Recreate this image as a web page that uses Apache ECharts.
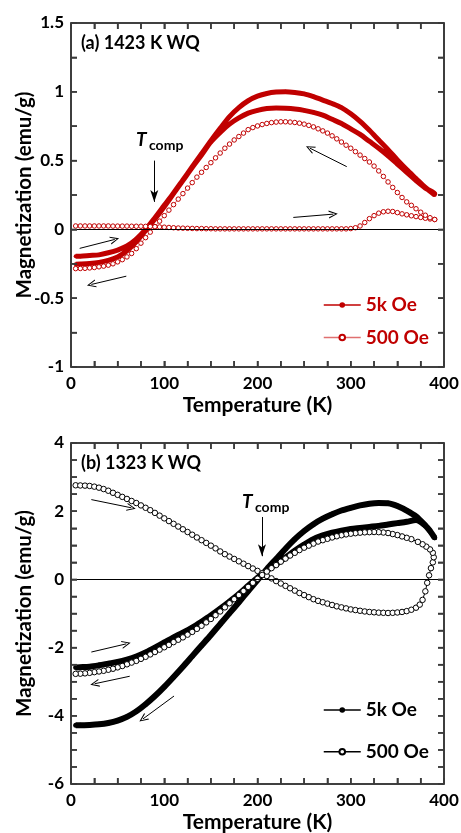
<!DOCTYPE html>
<html><head><meta charset="utf-8">
<script src="https://cdn.jsdelivr.net/npm/echarts@6/dist/echarts.min.js"></script>
<style>html,body{margin:0;padding:0;background:#fff}#c{width:461px;height:833px}</style>
</head><body><div id="c"></div>
<script>
// ---------- DATA (Temperature K, Magnetization emu/g) ----------
// Panel (a) 1423 K WQ
const a5kWarm = [[5,-0.196],[10,-0.195],[20,-0.19],[30,-0.185],[40,-0.17],[50,-0.15],[60,-0.12],[70,-0.07],[80,0.0],[90,0.085],[100,0.175],[110,0.265],[120,0.36],[130,0.455],[140,0.55],[150,0.645],[160,0.735],[170,0.82],[180,0.885],[190,0.935],[200,0.968],[210,0.988],[220,0.998],[230,1.0],[240,0.995],[250,0.985],[260,0.965],[270,0.94],[280,0.915],[290,0.885],[300,0.84],[310,0.785],[320,0.72],[330,0.65],[340,0.58],[350,0.505],[360,0.435],[370,0.37],[380,0.305],[390,0.25]];
const a5kCool = [[390,0.26],[380,0.3],[370,0.355],[360,0.415],[350,0.475],[340,0.535],[330,0.59],[320,0.64],[310,0.69],[300,0.73],[290,0.77],[280,0.8],[270,0.83],[260,0.85],[250,0.865],[240,0.875],[230,0.88],[220,0.882],[210,0.878],[200,0.865],[190,0.845],[180,0.81],[170,0.765],[160,0.705],[150,0.635],[140,0.54],[130,0.45],[120,0.355],[110,0.26],[100,0.165],[90,0.075],[80,-0.01],[70,-0.09],[60,-0.155],[50,-0.2],[40,-0.225],[30,-0.24],[20,-0.248],[10,-0.252],[5,-0.253]];
const a500Warm = [[5,.025],[10,.025],[15,.025],[20,.025],[25,.025],[30,.025],[35,.025],[40,.025],[45,.024],[50,.024],[55,.024],[60,.024],[65,.023],[70,.023],[75,.023],[80,.022],[85,.021],[90,.02],[95,.018],[100,.016],[105,.014],[110,.012],[115,.01],[120,.009],[125,.008],[130,.007],[135,.006],[140,.006],[145,.005],[150,.005],[155,.004],[160,.004],[165,.004],[170,.004],[175,.004],[180,.004],[185,.004],[190,.004],[195,.004],[200,.004],[205,.004],[210,.004],[215,.004],[220,.004],[225,.004],[230,.004],[235,.004],[240,.004],[245,.004],[250,.004],[255,.004],[260,.004],[265,.004],[270,.004],[275,.004],[280,.004],[285,.004],[290,.004],[295,.004],[300,.006],[305,.012],[310,.025],[315,.05],[320,.078],[325,.1],[330,.118],[335,.128],[340,.132],[345,.13],[350,.122],[355,.113],[360,.106],[365,.099],[370,.093],[375,.087],[380,.081],[385,.076],[390,.072]];
const a500Cool = [[390,.072],[385,.085],[380,.103],[375,.125],[370,.15],[365,.175],[360,.2],[355,.232],[350,.268],[345,.305],[340,.345],[335,.385],[330,.425],[325,.46],[320,.49],[315,.515],[310,.54],[305,.565],[300,.59],[295,.612],[290,.635],[285,.658],[280,.68],[275,.7],[270,.716],[265,.731],[260,.745],[255,.756],[250,.765],[245,.772],[240,.777],[235,.78],[230,.782],[225,.782],[220,.78],[215,.776],[210,.77],[205,.762],[200,.752],[195,.74],[190,.725],[185,.7],[180,.675],[175,.65],[170,.62],[165,.59],[160,.555],[155,.52],[150,.485],[145,.45],[140,.415],[135,.38],[130,.34],[125,.3],[120,.26],[115,.22],[110,.18],[105,.14],[100,.1],[95,.06],[90,.02],[85,-.02],[80,-.06],[75,-.1],[70,-.14],[65,-.175],[60,-.2],[55,-.22],[50,-.236],[45,-.25],[40,-.26],[35,-.267],[30,-.272],[25,-.277],[20,-.28],[15,-.283],[10,-.284],[5,-.285]];
// Panel (b) 1323 K WQ
const b5kWarm = [[5,-2.58],[10,-2.575],[20,-2.56],[30,-2.52],[40,-2.47],[50,-2.42],[60,-2.35],[70,-2.26],[80,-2.14],[90,-2.0],[100,-1.85],[110,-1.7],[120,-1.56],[130,-1.41],[140,-1.24],[150,-1.06],[160,-0.86],[170,-0.65],[180,-0.43],[190,-0.19],[200,0.05],[210,0.26],[220,0.45],[230,0.64],[240,0.84],[250,1.02],[260,1.18],[270,1.29],[280,1.37],[290,1.43],[300,1.48],[310,1.51],[320,1.54],[330,1.57],[340,1.61],[350,1.65],[360,1.69],[370,1.74],[380,1.58],[385,1.42],[390,1.22]];
const b5kCool = [[390,1.22],[385,1.42],[380,1.58],[370,1.85],[360,2.02],[350,2.15],[345,2.2],[340,2.23],[330,2.24],[320,2.22],[310,2.17],[300,2.1],[290,2.02],[280,1.91],[270,1.78],[260,1.62],[250,1.42],[240,1.18],[230,0.9],[220,0.6],[210,0.3],[200,-0.02],[190,-0.34],[180,-0.67],[170,-0.99],[160,-1.31],[150,-1.63],[140,-1.94],[130,-2.25],[120,-2.56],[110,-2.86],[100,-3.15],[90,-3.42],[80,-3.66],[70,-3.87],[60,-4.03],[50,-4.14],[40,-4.21],[30,-4.25],[20,-4.27],[10,-4.28],[5,-4.28]];
const b500Warm = [[5,2.76],[10,2.755],[15,2.75],[20,2.74],[25,2.72],[30,2.69],[35,2.65],[40,2.6],[45,2.54],[50,2.48],[55,2.42],[60,2.36],[65,2.3],[70,2.24],[75,2.17],[80,2.1],[85,2.03],[90,1.95],[95,1.87],[100,1.79],[105,1.71],[110,1.63],[115,1.55],[120,1.47],[125,1.39],[130,1.31],[135,1.23],[140,1.15],[145,1.07],[150,0.99],[155,0.91],[160,0.82],[165,0.74],[170,0.67],[175,0.6],[180,0.53],[185,0.46],[190,0.39],[195,0.32],[200,0.25],[205,0.18],[210,0.1],[215,0.03],[220,-0.05],[225,-0.12],[230,-0.19],[235,-0.26],[240,-0.33],[245,-0.4],[250,-0.46],[255,-0.52],[260,-0.58],[265,-0.63],[270,-0.67],[275,-0.71],[280,-0.75],[285,-0.79],[290,-0.82],[295,-0.85],[300,-0.88],[305,-0.9],[310,-0.92],[315,-0.94],[320,-0.955],[325,-0.965],[330,-0.975],[335,-0.98],[340,-0.985],[345,-0.98],[350,-0.97],[355,-0.955],[360,-0.93],[365,-0.89],[370,-0.83],[374,-0.74],[377,-0.6],[380,-0.35],[382,-0.1],[384,0.12],[386,0.33],[388,0.5]];
const b500Cool = [[389,0.65],[388,0.78],[385,0.88],[381,0.96],[377,1.03],[372,1.1],[365,1.18],[360,1.22],[355,1.26],[350,1.3],[345,1.33],[340,1.36],[335,1.375],[330,1.385],[325,1.39],[320,1.385],[315,1.38],[310,1.37],[305,1.355],[300,1.34],[295,1.32],[290,1.295],[285,1.265],[280,1.23],[275,1.19],[270,1.15],[265,1.11],[260,1.05],[255,0.99],[250,0.93],[245,0.86],[240,0.78],[235,0.7],[230,0.61],[225,0.52],[220,0.42],[215,0.33],[210,0.23],[205,0.13],[200,0.02],[195,-0.1],[190,-0.22],[185,-0.34],[180,-0.46],[175,-0.58],[170,-0.7],[165,-0.82],[160,-0.94],[155,-1.05],[150,-1.16],[145,-1.26],[140,-1.36],[135,-1.45],[130,-1.54],[125,-1.62],[120,-1.7],[115,-1.77],[110,-1.84],[105,-1.92],[100,-1.99],[95,-2.06],[90,-2.13],[85,-2.2],[80,-2.27],[75,-2.33],[70,-2.39],[65,-2.44],[60,-2.49],[55,-2.54],[50,-2.58],[45,-2.62],[40,-2.65],[35,-2.68],[30,-2.7],[25,-2.72],[20,-2.74],[15,-2.755],[10,-2.765],[5,-2.77]];
// Annotation arrows (data coords: start -> end)
const aArrows = [[[9.3,-0.138],[46.9,-0.073]],[[59.3,-0.34],[21.8,-0.40]],[[238.4,0.087],[281.3,0.111]],[[295.7,0.456],[256.3,0.59]]];
const aTcompArrow = [[89.3,0.5],[89.3,0.2]];
const bArrows = [[[21.8,2.34],[64.7,2.10]],[[21.8,-2.13],[59.3,-1.89]],[[63,-2.84],[25.4,-3.06]],[[110.5,-3.42],[77.2,-4.09]]];
const bTcompArrow = [[204.8,1.83],[204.8,0.68]];
// Labels
const legendNames = {a5k:'5k Oe', a500:'500 Oe', b5k:'5k Oe', b500:'500 Oe'};
const panelTitles = ['(a) 1423 K WQ','(b) 1323 K WQ'];
const xName = 'Temperature (K)';
const yName = 'Magnetization (emu/g)';
const xRange = {min:0, max:400, interval:100, minor:4};
const yRanges = [{min:-1,max:1.5,interval:0.5,minor:2},{min:-6,max:4,interval:2,minor:4}];

// ---------- STYLE ----------
const FONT = 'Lato, "Open Sans", sans-serif';
const RED = '#c00000';
const AXC = '#3a3a3a';
const CHEV = 'path://M5,0 L10,10 L8.6,10 L5,2.6 L1.4,10 L0,10 Z';
const GRIDS = [{left:71, top:23, width:373, height:344}, {left:71, top:443, width:373, height:341}];

function xAxes(g){
  const c = {gridIndex:g, type:'value', min:xRange.min, max:xRange.max, interval:xRange.interval, z:10,
    axisLine:{show:true, onZero:false, lineStyle:{color:'#4a4a4a', width:1.6}},
    axisTick:{show:true, inside:true, length:6, lineStyle:{color:AXC, width:1.5}},
    minorTick:{show:true, splitNumber:xRange.minor, length:6, lineStyle:{color:AXC, width:1.5}},
    splitLine:{show:false}, minorSplitLine:{show:false}};
  return [
    Object.assign({}, c, {position:'bottom', name:xName, nameLocation:'middle', nameGap:28, nameMoveOverlap:false,
      nameTextStyle:{fontSize:21, fontWeight:'bold', color:'#000', fontFamily:FONT},
      axisLabel:{show:true, margin:8, fontSize:17, fontWeight:'bold', color:'#000', fontFamily:FONT}}),
    Object.assign({}, c, {position:'top', axisLabel:{show:false}})
  ];
}
function yAxes(g){
  const r = yRanges[g];
  const c = {gridIndex:g, type:'value', min:r.min, max:r.max, interval:r.interval, z:10,
    axisLine:{show:true, onZero:false, lineStyle:{color:'#4a4a4a', width:1.6}},
    axisTick:{show:true, inside:true, length:6, lineStyle:{color:AXC, width:1.5}},
    minorTick:{show:true, splitNumber:r.minor, length:6, lineStyle:{color:AXC, width:1.5}},
    splitLine:{show:false}, minorSplitLine:{show:false}};
  return [
    Object.assign({}, c, {position:'left', name:yName, nameLocation:'middle', nameGap:36, nameMoveOverlap:false,
      nameTextStyle:{fontSize:20.5, fontWeight:'bold', color:'#000', fontFamily:FONT},
      axisLabel:{show:true, margin:7, fontSize:17, fontWeight:'bold', color:'#000', fontFamily:FONT}}),
    Object.assign({}, c, {position:'right', axisLabel:{show:false}})
  ];
}
function arrowLines(list, tcomp){
  const d = list.map(p => [{coord:p[0], symbol:'none'}, {coord:p[1], symbol:CHEV, symbolSize:[8,9]}]);
  d.push([{coord:tcomp[0], symbol:'none'}, {coord:tcomp[1], symbol:'arrow', symbolSize:[6,12]}]);
  return {silent:true, animation:false, label:{show:false}, emphasis:{disabled:true},
    lineStyle:{color:'#000', width:1, type:'solid'}, data:d};
}
function zeroLine(){
  return {silent:true, animation:false, symbol:['none','none'], label:{show:false}, emphasis:{disabled:true},
    lineStyle:{color:'#000', width:1, type:'solid'}, data:[{yAxis:0}]};
}

const baseGraphic = [
  {type:'text', left:136, top:130, style:{text:'T', font:'italic bold 19px ' + FONT, fill:'#000'}},
  {type:'text', left:149, top:138, style:{text:'comp', font:'bold 14px ' + FONT, fill:'#000'}},
  {type:'text', left:242, top:492, style:{text:'T', font:'italic bold 19px ' + FONT, fill:'#000'}},
  {type:'text', left:255, top:500, style:{text:'comp', font:'bold 14px ' + FONT, fill:'#000'}}
];

const option = {
  animation:false,
  backgroundColor:'#fff',
  title: panelTitles.map((t,i) => ({text:t, left:81, top: i===0 ? 34 : 454, padding:0,
    textStyle:{fontSize:18, fontWeight:'bold', color:'#000', fontFamily:FONT}})),
  grid: GRIDS.map(g => Object.assign({outerBoundsMode:'none', containLabel:false, show:true,
    borderColor:'#4a4a4a', borderWidth:1.6, backgroundColor:'transparent'}, g)),
  xAxis: xAxes(0).concat(xAxes(1)),
  yAxis: yAxes(0).concat(yAxes(1)),
  legend:[
    {orient:'vertical', left:318, top:289, itemWidth:37, itemHeight:7, itemGap:10.5,
     data:[{name:'a5k', textStyle:{color:RED}}, {name:'a500', textStyle:{color:RED}}],
     formatter: n => legendNames[n], selectedMode:false,
     textStyle:{fontSize:19, fontWeight:'bold', fontFamily:FONT, lineHeight:22},
     lineStyle:{width:1.5}},
    {orient:'vertical', left:318, top:694, itemWidth:37, itemHeight:7, itemGap:19.7,
     data:[{name:'b5k', textStyle:{color:'#000'}}, {name:'b500', textStyle:{color:'#000'}}],
     formatter: n => legendNames[n], selectedMode:false,
     textStyle:{fontSize:19, fontWeight:'bold', fontFamily:FONT, lineHeight:22},
     lineStyle:{width:1.5}}
  ],
  series:[
    {type:'line', name:'a5k', xAxisIndex:0, yAxisIndex:0, data:a5kWarm.concat(a5kCool),
     symbol:'circle', symbolSize:4, showSymbol:true, smooth:0.3,
     lineStyle:{color:RED, width:5}, itemStyle:{color:RED}, z:3,
     markLine: zeroLine()},
    {type:'line', name:'a500', xAxisIndex:0, yAxisIndex:0, data:a500Warm.concat(a500Cool),
     symbol:'circle', symbolSize:4.5, showSymbol:true,
     lineStyle:{color:'#e07070', width:1}, itemStyle:{color:'#fff', borderColor:RED, borderWidth:1}, z:4,
     markLine: arrowLines(aArrows, aTcompArrow)},
    {type:'line', name:'b5k', xAxisIndex:2, yAxisIndex:2, data:b5kWarm.concat(b5kCool),
     symbol:'circle', symbolSize:5, showSymbol:true, smooth:0.3,
     lineStyle:{color:'#000', width:6}, itemStyle:{color:'#000'}, z:3,
     markLine: zeroLine()},
    {type:'line', name:'b500', xAxisIndex:2, yAxisIndex:2, data:b500Warm.concat(b500Cool),
     symbol:'circle', symbolSize:5.5, showSymbol:true,
     lineStyle:{color:'#000', width:1}, itemStyle:{color:'#fff', borderColor:'#000', borderWidth:1}, z:4,
     markLine: arrowLines(bArrows, bTcompArrow)}
  ],
  graphic: baseGraphic
};
const chart = echarts.init(document.getElementById('c'), null, {renderer:'canvas'});
chart.setOption(option);

// Frame and inside ticks placed through the library's own axis scales
try {
  const extra = [];
  const st = {stroke:AXC, lineWidth:1.5};
  const addLine = (x1,y1,x2,y2,w) => extra.push({type:'line', silent:true, z:100,
    shape:{x1:x1,y1:y1,x2:x2,y2:y2}, style:{stroke:st.stroke, lineWidth:w || st.lineWidth}});
  [0,1].forEach(g => {
    const finder = {xAxisIndex: g*2, yAxisIndex: g*2};
    const yr = yRanges[g];
    const P = v => chart.convertToPixel(finder, v);
    const bl = P([xRange.min, yr.min]), tr = P([xRange.max, yr.max]);
    addLine(bl[0], bl[1], tr[0], bl[1], 1.6);
    addLine(bl[0], tr[1], tr[0], tr[1], 1.6);
    addLine(bl[0], bl[1], bl[0], tr[1], 1.6);
    addLine(tr[0], bl[1], tr[0], tr[1], 1.6);
    const xStep = xRange.interval / xRange.minor;
    for (let k = 0; k <= (xRange.max - xRange.min) / xStep; k++) {
      const px = P([xRange.min + k * xStep, yr.min])[0];
      addLine(px, bl[1], px, bl[1] - 6);
      addLine(px, tr[1], px, tr[1] + 6);
    }
    const yStep = yr.interval / yr.minor;
    const ny = Math.round((yr.max - yr.min) / yStep);
    for (let k = 0; k <= ny; k++) {
      const py = P([xRange.min, yr.min + k * yStep])[1];
      addLine(bl[0], py, bl[0] + 6, py);
      addLine(tr[0], py, tr[0] - 6, py);
    }
  });
  chart.setOption({graphic: baseGraphic.concat(extra)});
} catch (e) {}
</script></body></html>
